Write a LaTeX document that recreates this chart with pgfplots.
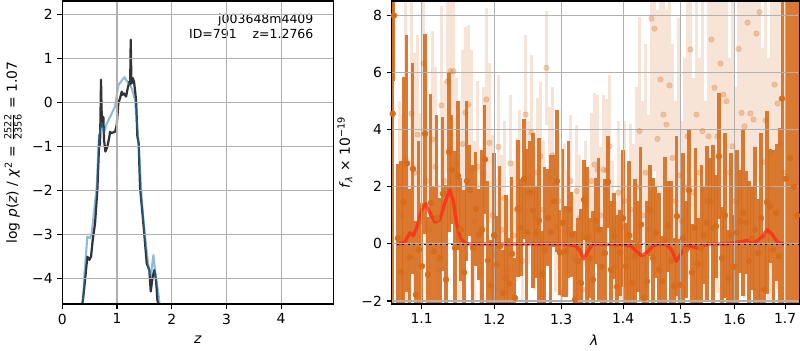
\documentclass[border=0pt]{standalone}
\usepackage{fontspec}
\setmainfont{DejaVu Sans}
\usepackage{pgfplots}
\pgfplotsset{compat=1.18}
\usepackage{pgfplotstable}
\definecolor{dk}{RGB}{214,108,28}
\definecolor{mblue}{RGB}{31,119,180}
\definecolor{darkk}{RGB}{51,51,51}
\definecolor{gridc}{RGB}{176,176,176}
\definecolor{modred}{RGB}{255,40,20}

\pgfplotstableread{
z lp
0.354 -4.70
0.396 -4.27
0.457 -3.51
0.494 -3.58
0.524 -3.51
0.555 -3.13
0.598 -2.75
0.640 -1.99
0.670 -1.01
0.680 -0.74
0.689 -0.97
0.707 0.51
0.716 -0.10
0.726 -0.55
0.750 -0.33
0.762 -0.86
0.787 -1.12
0.823 -1.01
0.860 -0.78
0.872 -0.67
0.890 -0.70
0.963 -0.67
0.994 -0.52
1.024 -0.02
1.055 0.09
1.085 0.24
1.104 0.17
1.128 0.20
1.165 0.13
1.195 0.32
1.226 0.47
1.240 0.40
1.250 1.42
1.262 0.50
1.268 0.43
1.287 0.55
1.311 0.47
1.348 0.05
1.372 -0.78
1.396 -0.93
1.420 -1.92
1.470 -2.60
1.512 -3.20
1.543 -3.66
1.590 -3.81
1.616 -4.30
1.652 -3.96
1.683 -3.81
1.713 -4.04
1.738 -4.49
1.774 -4.70
}\blackpz

\pgfplotstableread{
z lp
0.372 -4.70
0.396 -4.04
0.457 -3.05
0.506 -3.09
0.537 -2.98
0.628 -1.92
0.670 -0.78
0.720 -0.48
0.762 -0.70
0.799 -0.52
0.963 -0.10
1.024 0.39
1.134 0.57
1.207 0.43
1.268 0.32
1.329 0.05
1.390 -0.86
1.451 -2.22
1.512 -3.05
1.573 -3.73
1.616 -3.96
1.665 -3.47
1.707 -3.96
1.756 -4.34
1.787 -4.70
}\bluepz

\pgfplotstableread{
x f
1.0696 0
1.078 0.06
1.0847 0.39
1.089 0.29
1.0943 0.62
1.1 1.20
1.1053 1.41
1.111 1.09
1.1177 0.76
1.1243 0.85
1.131 1.44
1.1378 1.90
1.1422 1.55
1.1468 0.74
1.1522 0.21
1.158 0.04
1.165 0
1.3033 0
1.3213 -0.06
1.329 -0.20
1.3355 -0.53
1.342 -0.26
1.350 0
1.40 -0.02
1.414 -0.08
1.4225 -0.26
1.431 -0.41
1.4395 -0.32
1.451 -0.08
1.46 0
1.4745 -0.02
1.4834 -0.20
1.4924 -0.61
1.5014 -0.32
1.5104 -0.06
1.5195 -0.08
1.5286 -0.14
1.5378 -0.08
1.55 0
1.584 0
1.609 0.07
1.625 0.12
1.641 0.07
1.654 0.25
1.664 0.50
1.674 0.33
1.684 0.07
1.697 0
}\model

\pgfplotstableread{
x y e
1.0625 4.56 12
1.0641 8.0 2.3
1.0692 0.2 2.6
1.0731 -1.0 3.9
1.0769 1.46 4.4
1.0808 2.82 4.5
1.0847 -0.46 2.4
1.0886 2.63 3.7
1.0925 -1.78 2.6
1.0964 -0.2 3.8
1.1004 -0.78 2.2
1.1044 3.86 3.5
1.1083 -1.07 2.0
1.1123 1.44 3.8
1.1163 -0.26 2.3
1.1203 0.9 3.6
1.1244 -0.5 2.1
1.1284 1.76 2.7
1.1325 -1.25 3.3
1.1366 3.22 2.8
1.1406 2.6 1.9
1.1448 -0.14 3.4
1.1489 2.39 2.6
1.1530 0.5 1.8
1.1572 -1.0 2.9
1.1613 2.2 2.8
1.1655 1.88 1.6
1.1697 -0.14 2.9
1.1739 1.23 2.0
1.1781 0.33 1.6
1.1824 0.5 2.8
1.1866 2.96 1.9
1.1909 -0.58 2.8
1.1952 -1.46 1.6
1.1995 0.3 2.9
1.2038 -0.72 1.7
1.2081 -0.08 2.8
1.2125 -1.72 1.5
1.2169 -1.19 2.9
1.2212 -1.39 1.6
1.2256 -0.35 2.7
1.2300 -1.89 1.4
1.2345 1.23 2.4
1.2389 0.56 1.7
1.2434 2.28 2.1
1.2478 0.42 2.9
1.2523 1.81 1.8
1.2568 1.17 2.7
1.2614 0.39 1.6
1.2659 0.82 2.9
1.2705 -1.05 1.5
1.2750 -0.22 2.9
1.2796 0.91 1.7
1.2842 0.41 2.7
1.2888 1.5 1.6
1.2935 2.2 2.5
1.2981 -0.3 1.5
1.3028 0.74 2.6
1.3075 -0.26 1.6
1.3122 1.2 2.4
1.3169 0.33 1.5
1.3217 -1.95 2.4
1.3264 -0.6 1.5
1.3312 -1.37 2.6
1.3360 1.55 1.4
1.3408 0.2 2.5
1.3456 -0.5 1.4
1.3505 -1.25 2.4
1.3553 0.8 1.5
1.3602 0.5 2.5
1.3651 -0.8 1.4
1.3700 -0.32 2.6
1.3750 2.17 1.6
1.3799 -0.9 2.4
1.3849 0.27 1.5
1.3899 -1.5 2.5
1.3949 -0.32 1.5
1.3999 0.9 2.4
1.4049 -0.78 1.5
1.4100 0.3 2.6
1.4151 -1.37 1.5
1.4202 -0.43 2.7
1.4253 -0.08 1.6
1.4304 0.68 2.7
1.4355 -1.9 1.5
1.4407 -1.31 2.8
1.4459 1.18 1.6
1.4511 -0.5 2.8
1.4563 0.39 1.6
1.4616 -0.9 2.7
1.4668 -1.31 1.6
1.4721 0.15 2.9
1.4774 0.62 1.6
1.4827 -0.6 2.8
1.4881 -1.48 1.7
1.4934 0.97 2.8
1.4988 -1.43 1.6
1.5042 0.2 3.0
1.5096 -0.2 1.7
1.5150 1.88 2.1
1.5205 -1.0 1.7
1.5260 0.56 2.8
1.5315 -0.7 1.6
1.5370 -0.14 2.9
1.5425 0.3 1.7
1.5481 0.74 2.7
1.5536 1.5 1.5
1.5592 0.56 2.9
1.5648 0.62 1.8
1.5705 3.07 2.2
1.5761 -0.5 1.8
1.5818 1.0 2.9
1.5875 -1.2 1.7
1.5932 0.3 2.9
1.5989 -0.8 1.8
1.6047 0.4 2.9
1.6105 0.79 1.8
1.6163 1.09 2.9
1.6221 0.74 1.8
1.6279 -0.6 2.8
1.6338 0.2 1.8
1.6397 0.5 2.9
1.6456 -0.32 1.9
1.6515 0.9 3.0
1.6575 -1.6 1.9
1.6634 1.46 3.2
1.6694 1.32 2.0
1.6754 -0.2 3.5
1.6815 1.09 2.4
1.6875 -0.43 4.5
1.6936 5.09 9
1.7017 2.28 12
1.7099 3.0 12
1.7181 2.0 12
1.7243 1.0 12
}\dark

\pgfplotstableread{
x y e
1.0711 2.0 3.0
1.0750 1.0 3.5
1.0788 3.0 6.0
1.0827 -0.5 3.5
1.0867 4.56 5.0
1.0906 2.5 4.2
1.0945 3.83 3.5
1.0984 0.8 3.8
1.1024 6.32 5.0
1.1064 2.2 4.0
1.1103 0.5 3.5
1.1143 3.66 3.8
1.1183 2.7 3.5
1.1223 -0.9 3.0
1.1264 4.85 3.5
1.1304 2.2 3.5
1.1345 5.70 3.2
1.1386 6.05 3.5
1.1427 6.05 3.0
1.1469 2.8 3.0
1.1510 0.2 3.0
1.1551 3.5 3.3
1.1593 4.6 3.0
1.1634 4.88 2.8
1.1676 2.6 4.2
1.1718 0.8 2.8
1.1760 2.7 3.0
1.1802 -1.0 2.5
1.1845 2.5 3.0
1.1887 5.06 3.2
1.1930 3.54 2.8
1.1973 1.0 2.8
1.2017 -0.4 2.7
1.2060 3.4 2.5
1.2103 0.5 2.6
1.2147 1.6 2.7
1.2191 -0.9 2.5
1.2234 2.82 2.4
1.2278 0.3 2.6
1.2322 1.2 2.5
1.2367 2.0 2.7
1.2411 -0.6 2.5
1.2456 4.53 2.8
1.2500 1.8 2.5
1.2546 3.9 2.7
1.2591 0.9 2.5
1.2637 2.5 2.6
1.2682 3.07 2.6
1.2728 1.2 2.4
1.2773 6.17 2.0
1.2819 2.3 2.5
1.2865 3.1 2.4
1.2911 0.6 2.3
1.2958 1.5 2.4
1.3004 -1.72 2.0
1.3051 1.2 2.3
1.3098 0.4 2.2
1.3146 2.2 2.3
1.3193 -0.5 2.2
1.3241 1.85 2.3
1.3288 0.9 2.2
1.3336 -1.6 2.0
1.3384 1.4 2.2
1.3432 0.3 2.3
1.3480 2.2 2.4
1.3529 2.78 2.5
1.3577 2.6 2.6
1.3626 1.0 2.4
1.3676 2.6 2.6
1.3725 2.58 2.5
1.3775 3.42 2.5
1.3824 0.5 2.4
1.3874 -0.8 2.3
1.3924 1.8 2.5
1.3974 0.6 2.6
1.4024 1.5 2.8
1.4074 -0.5 2.6
1.4125 1.2 3.0
1.4176 0.3 3.2
1.4228 2.0 3.5
1.4279 3.95 4.0
1.4330 1.0 4.0
1.4381 2.5 4.5
1.4433 0.5 4.0
1.4485 7.89 5.5
1.4537 7.54 5.0
1.4589 3.68 4.5
1.4642 5.76 4.0
1.4694 4.53 5.5
1.4747 4.18 4.0
1.4801 5.55 5.0
1.4854 3.01 4.0
1.4908 1.5 3.5
1.4961 2.4 5.5
1.5015 0.8 3.5
1.5069 2.0 4.5
1.5123 3.77 5.0
1.5177 6.81 5.5
1.5232 1.8 4.0
1.5287 4.53 5.0
1.5343 2.5 4.0
1.5398 3.95 5.0
1.5453 1.5 3.5
1.5509 3.77 5.0
1.5564 7.16 5.5
1.5620 5.47 4.5
1.5676 3.77 5.5
1.5733 6.32 5.0
1.5789 5.23 4.0
1.5846 5.0 5.5
1.5904 2.5 4.0
1.5961 3.42 5.5
1.6018 1.5 4.0
1.6076 6.83 6.0
1.6134 4.59 4.5
1.6192 4.12 6.0
1.6250 7.75 6.0
1.6308 4.57 5.0
1.6367 4.36 6.0
1.6426 7.37 5.0
1.6486 8.12 6.0
1.6545 2.86 4.0
1.6605 4.33 6.0
1.6664 2.0 4.5
1.6724 3.2 6.0
1.6784 5.58 5.0
1.6845 4.92 6.5
1.6905 3.5 7.0
1.6966 2.5 8.0
}\light

\pgfplotsset{
  mpl/.style={
    scale only axis,
    anchor=south west,
    axis on top,
    axis line style={line width=0.8pt, black},
    grid=major,
    grid style={gridc, line width=0.8pt},
    tick style={black, line width=0.8pt},
    major tick length=3.5pt,
    tick align=outside,
    xtick pos=bottom,
    ytick pos=left,
    ticklabel style={font=\fontsize{10}{12}\selectfont},
    label style={font=\fontsize{10}{12}\selectfont},
  }
}

\begin{document}
\begin{tikzpicture}
\path[use as bounding box] (0,0) rectangle (576pt,252pt);

% left panel
\begin{axis}[mpl,
  at={(44.9pt,33.1pt)},
  width=195.1pt, height=218.2pt,
  xmin=0, xmax=4.955, ymin=-4.584, ymax=2.302,
  xtick={0,1,2,3,4}, xticklabels={0,1,2,3,4},
  ytick={-4,-3,-2,-1,0,1,2}, yticklabels={−4,−3,−2,−1,0,1,2},
  xlabel={\textit{z}},
  xlabel style={at={(axis description cs:0.5,-0.119)}, anchor=center},
  ylabel={log \textit{p}(\textit{z}) / \textit{χ}\textsuperscript{2} = $\frac{\mbox{\fontsize{7}{7}\selectfont 2522}}{\mbox{\fontsize{7}{7}\selectfont 2356}}$ = 1.07},
  ylabel style={at={(axis description cs:-0.182,0.5)}, anchor=center},
]
\addplot[darkk, line width=1.6pt, line join=round] table[x=z, y=lp] {\blackpz};
\addplot[mblue, opacity=0.5, line width=1.5pt, line join=round] table[x=z, y=lp] {\bluepz};
\node[anchor=base east, font=\fontsize{9}{10}\selectfont] at (axis description cs:0.9446,0.924) {j003648m4409};
\node[anchor=base east, font=\fontsize{9}{10}\selectfont] at (axis description cs:0.9446,0.877) {ID=791\ \ \ \ z=1.2766};
\end{axis}

% right panel
\begin{axis}[mpl,
  at={(282.0pt,33.1pt)},
  width=293.5pt, height=218.2pt,
  xmode=log,
  xmin=1.0612, xmax=1.729, ymin=-2.105, ymax=8.51,
  xtick={1.1,1.2,1.3,1.4,1.5,1.6,1.7},
  xticklabels={1.1,1.2,1.3,1.4,1.5,1.6,1.7},
  minor xtick={},
  ytick={-2,0,2,4,6,8}, yticklabels={−2,0,2,4,6,8},
  xlabel={\textit{λ}},
  xlabel style={at={(axis description cs:0.497,-0.119)}, anchor=center},
  ylabel={\textit{f}\textsubscript{\textit{λ}} × 10\textsuperscript{−19}},
  ylabel style={at={(axis description cs:-0.1146,0.5)}, anchor=center},
]
\addplot[only marks, mark=*, mark size=2pt, color=dk,
  mark options={fill=dk, draw=none, opacity=0.3},
  error bars/.cd, y dir=both, y explicit, error mark=none,
  error bar style={line width=1.6pt, color=dk, opacity=0.18}]
  table[x=x, y=y, y error=e] {\light};
\addplot[only marks, mark=*, mark size=2.1pt, color=dk,
  mark options={fill=dk, draw=none},
  error bars/.cd, y dir=both, y explicit, error mark=none,
  error bar style={line width=2.2pt, color=dk, opacity=0.9}]
  table[x=x, y=y, y error=e] {\dark};
\addplot[modred, opacity=0.75, line width=2.4pt, line join=round] table[x=x, y=f] {\model};
\addplot[black, line width=1.5pt, dash pattern=on 1.5pt off 2.4pt] coordinates {(1.068,0) (1.729,0)};
\node[anchor=east, font=\fontsize{5}{6}\selectfont] at (axis description cs:0.9723,-0.119) {Thu Apr 23 17:31:23 2020};
\end{axis}
\end{tikzpicture}
\end{document}
